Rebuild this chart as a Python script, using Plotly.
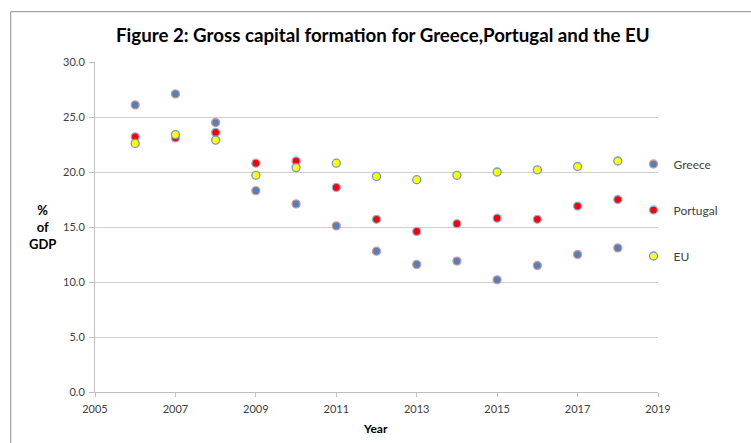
import plotly.graph_objects as go

years = [2006, 2007, 2008, 2009, 2010, 2011, 2012, 2013, 2014, 2015, 2016, 2017, 2018]
greece = [26.1, 27.1, 24.5, 18.3, 17.1, 15.1, 12.8, 11.6, 11.9, 10.2, 11.5, 12.5, 13.1]
portugal = [23.2, 23.1, 23.6, 20.8, 21.0, 18.6, 15.7, 14.6, 15.3, 15.8, 15.7, 16.9, 17.5]
eu = [22.6, 23.4, 22.9, 19.7, 20.4, 20.8, 19.6, 19.3, 19.7, 20.0, 20.2, 20.5, 21.0]
x_ticks = [2005, 2007, 2009, 2011, 2013, 2015, 2017, 2019]
y_ticks = [0, 5, 10, 15, 20, 25, 30]

FONT = "Lato"
series = [
    ("Greece", greece, "#4F81BD", "#D99694"),
    ("Portugal", portugal, "#FF0000", "#8EB4E3"),
    ("EU", eu, "#FFFF00", "#6F9BD1"),
]

fig = go.Figure()
for name, vals, fill, edge in series:
    fig.add_trace(go.Scatter(
        x=years, y=vals, mode="markers", name=name, legendgroup=name,
        marker=dict(size=8, color=fill, line=dict(color=edge, width=1.3)),
    ))

fig.update_layout(
    width=751, height=443,
    margin=dict(l=95, r=93, t=62, b=51),
    paper_bgcolor="white", plot_bgcolor="white",
    font=dict(family=FONT, size=11, color="#404040"),
    showlegend=True,
    legend=dict(x=0.9565, xanchor="left", y=0.5515, yanchor="middle",
                font=dict(family=FONT, size=12, color="#404040"),
                tracegroupgap=27, bgcolor="rgba(0,0,0,0)", borderwidth=0),
    xaxis=dict(range=[2005, 2019], tickvals=x_ticks, ticktext=[str(t) for t in x_ticks],
               showgrid=False, zeroline=False, showline=True, linecolor="#BFBFBF", linewidth=1,
               ticks="outside", ticklen=4, tickcolor="#BFBFBF", ticklabelstandoff=3,
               tickfont=dict(family=FONT, size=11, color="#404040")),
    yaxis=dict(range=[0, 30], tickvals=y_ticks, tickformat=".1f",
               showgrid=True, gridcolor="#D0D0D0", gridwidth=1, zeroline=False,
               showline=True, linecolor="#BFBFBF", linewidth=1,
               ticks="outside", ticklen=5, tickcolor="#BFBFBF", ticklabelstandoff=2,
               tickfont=dict(family=FONT, size=11, color="#404040")),
    annotations=[
        dict(text="<b>Figure 2: Gross capital formation for Greece,Portugal and the EU</b>",
             xref="paper", yref="paper", x=0.5107, y=1.082, xanchor="center", yanchor="middle",
             showarrow=False, font=dict(family=FONT, size=18.7, color="#000000")),
        dict(text="<b>%<br>of<br>GDP</b>", xref="paper", yref="paper",
             x=-0.094, y=0.5, xanchor="center", yanchor="middle", showarrow=False,
             font=dict(family=FONT, size=13, color="#000000")),
        dict(text="<b>Year</b>", xref="paper", yref="paper",
             x=0.499, y=-0.112, xanchor="center", yanchor="middle", showarrow=False,
             font=dict(family=FONT, size=12, color="#000000")),
    ],
    shapes=[
        dict(type="rect", xref="paper", yref="paper", x0=-0.1497, x1=1.5, y0=-0.5, y1=1.1524,
             line=dict(color="#8C8C8C", width=1), fillcolor="rgba(0,0,0,0)", layer="below"),
    ],
)

fig.write_html("out.html")
